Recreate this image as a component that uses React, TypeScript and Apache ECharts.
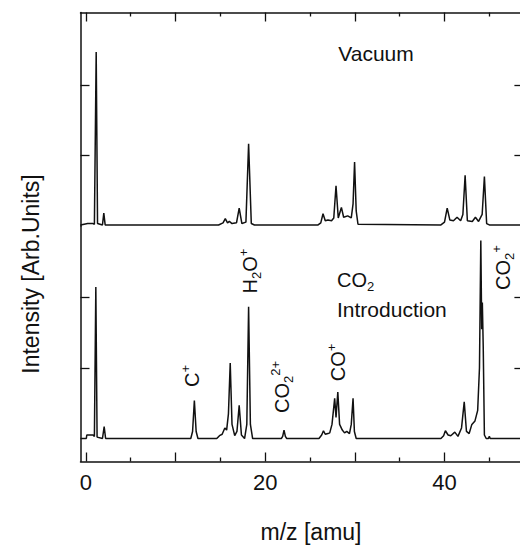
import React, { useEffect, useRef } from "react";
import * as echarts from "echarts";

// ---- data ----
const vacuumMz = [
  -0.6, 0.2, 0.8, 0.95, 1.15, 1.3, 1.85, 2.0, 2.15,
  14.8, 15.3, 15.55, 15.8, 16.0, 16.3, 16.8, 17.1, 17.4, 17.85, 18.15, 18.45, 18.8,
  25.9, 26.2, 26.45, 26.7, 27.0, 27.4, 27.65, 27.9, 28.15, 28.5, 28.75, 29.2, 29.6, 29.8, 29.97, 30.15, 30.35,
  39.6, 40.0, 40.3, 40.6, 41.0, 41.4, 41.8, 42.05, 42.3, 42.55, 43.1, 43.45, 43.8, 44.2, 44.45, 44.7, 45.0, 48.8,
];
const vacuumIntensity = [
  0.0, 0.02, 0.02, 0.01, 2.47, 0.02, 0.0, 0.17, 0.0,
  0.0, 0.03, 0.09, 0.03, 0.05, 0.02, 0.03, 0.24, 0.02, 0.04, 1.16, 0.02, 0.0,
  0.0, 0.03, 0.16, 0.06, 0.07, 0.06, 0.1, 0.56, 0.1, 0.25, 0.11, 0.13, 0.1, 0.3, 0.9, 0.2, 0.01,
  0.0, 0.04, 0.24, 0.07, 0.06, 0.11, 0.06, 0.15, 0.71, 0.06, 0.05, 0.11, 0.05, 0.15, 0.69, 0.02, 0.0, 0.0,
];

const co2Mz = [
  -0.6, 0.05, 0.1, 0.8, 0.95, 1.11, 1.25, 1.85, 2.04, 2.2,
  11.7, 11.9, 12.1, 12.3, 12.5,
  14.6, 14.9, 15.2, 15.5, 15.7, 15.9, 16.1, 16.3, 16.6, 16.85, 17.1, 17.35, 17.7, 17.95, 18.15, 18.35, 18.6,
  21.8, 21.95, 22.1, 22.25, 22.4,
  26.0, 26.3, 26.5, 26.7, 27.0, 27.2, 27.45, 27.75, 27.9, 28.1, 28.3, 28.6, 28.85, 29.1, 29.4, 29.6, 29.8, 29.95, 30.15,
  39.6, 39.9, 40.1, 40.4, 40.7, 41.15, 41.5, 41.9, 42.2, 42.45, 42.75, 43.05, 43.4, 43.7, 43.9, 44.05, 44.15, 44.22, 44.32, 44.45, 44.65,
  44.9, 45.0, 45.1, 48.8,
];
const co2Intensity = [
  0.0, 0.0, 0.05, 0.05, 0.03, 2.15, 0.02, 0.0, 0.17, 0.0,
  0.0, 0.1, 0.54, 0.1, 0.0,
  0.0, 0.04, 0.06, 0.15, 0.12, 0.35, 1.07, 0.2, 0.04, 0.1, 0.47, 0.05, 0.0, 0.2, 1.87, 0.2, 0.0,
  0.0, 0.03, 0.12, 0.03, 0.0,
  0.0, 0.05, 0.11, 0.06, 0.07, 0.08, 0.2, 0.57, 0.3, 0.66, 0.2, 0.12, 0.08, 0.1, 0.07, 0.2, 0.57, 0.1, 0.0,
  0.0, 0.04, 0.11, 0.05, 0.04, 0.09, 0.03, 0.15, 0.52, 0.1, 0.07, 0.2, 0.25, 0.4, 1.0, 2.81, 1.55, 1.93, 1.3, 0.05, 0.0,
  0.0, 0.03, 0.0, 0.0,
];

const majorTicks = [0, 10, 20, 30, 40];
const minorTicks = [5, 15, 25, 35, 45];
const xTickLabels = [0, 20, 40];
const yTicks = [1, 2];

const xTitle = "m/z [amu]";
const yTitle = "Intensity [Arb.Units]";

const FONT = "'Liberation Sans', Arial, Helvetica, sans-serif";
const INK = "#111";

const richScript = {
  n: { fontSize: 20, lineHeight: 26, verticalAlign: "middle", fontFamily: FONT, fill: INK },
  s: { fontSize: 13, lineHeight: 13, verticalAlign: "bottom", fontFamily: FONT, fill: INK },
  p: { fontSize: 13, lineHeight: 13, verticalAlign: "top", fontFamily: FONT, fill: INK },
};

function rotLabel(text: string, x: number, y: number) {
  return {
    type: "text",
    x,
    y,
    rotation: Math.PI / 2,
    silent: true,
    style: {
      text,
      rich: richScript,
      align: "center",
      verticalAlign: "middle",
      fontFamily: FONT,
      fontSize: 20,
      fill: INK,
    },
  };
}

export default function App() {
  const ref = useRef<HTMLDivElement>(null);

  useEffect(() => {
    if (!ref.current) return;
    const chart = echarts.init(ref.current, undefined, { renderer: "svg" });

    const X_MIN = -0.6;
    const X_MAX = 48.8;
    const lineStyle = { color: INK, width: 1.5 };

    const xAxisBase = (gridIndex: number, position: string, ticks: number[], len: number, showLine: boolean, labels?: number[]) => ({
      type: "value",
      gridIndex,
      position,
      min: X_MIN,
      max: X_MAX,
      axisLine: { show: showLine, onZero: false, lineStyle },
      axisTick: { show: true, inside: true, length: len, customValues: ticks, lineStyle: { color: INK, width: 1.3 } },
      axisLabel: labels
        ? { show: true, customValues: labels, fontSize: 22, color: INK, fontFamily: FONT, margin: 10 }
        : { show: false },
      splitLine: { show: false },
    });

    const yAxisBase = (gridIndex: number, position: string, min: number, max: number) => ({
      type: "value",
      gridIndex,
      position,
      min,
      max,
      axisLine: { show: true, onZero: false, lineStyle },
      axisTick: { show: true, inside: true, length: 9, customValues: yTicks, lineStyle: { color: INK, width: 1.3 } },
      axisLabel: { show: false },
      splitLine: { show: false },
    });

    chart.setOption({
      animation: false,
      backgroundColor: "#fff",
      grid: [
        { left: 80.5, right: 6.6, top: 12.5, height: 213.5 },
        { left: 80.5, right: 6.6, top: 226, height: 235.5 },
      ],
      xAxis: [
        xAxisBase(0, "top", majorTicks, 9, true),
        xAxisBase(0, "top", minorTicks, 4, false),
        xAxisBase(1, "bottom", majorTicks, 9, true, xTickLabels),
        xAxisBase(1, "bottom", minorTicks, 4, false),
      ],
      yAxis: [
        yAxisBase(0, "left", -0.015, 3.035),
        yAxisBase(0, "right", -0.015, 3.035),
        yAxisBase(1, "left", -0.326, 3.014),
        yAxisBase(1, "right", -0.326, 3.014),
      ],
      series: [
        {
          name: "Vacuum",
          type: "line",
          xAxisIndex: 0,
          yAxisIndex: 0,
          data: vacuumMz.map((m, i) => [m, vacuumIntensity[i]]),
          showSymbol: false,
          symbol: "none",
          lineStyle: { color: INK, width: 1.5 },
          smooth: false,
        },
        {
          name: "CO2 Introduction",
          type: "line",
          xAxisIndex: 2,
          yAxisIndex: 2,
          data: co2Mz.map((m, i) => [m, co2Intensity[i]]),
          showSymbol: false,
          symbol: "none",
          lineStyle: { color: INK, width: 1.5 },
          smooth: false,
        },
      ],
      graphic: [
        {
          type: "text",
          x: 376,
          y: 53.5,
          silent: true,
          style: { text: "Vacuum", fontSize: 21, fontFamily: FONT, fill: INK, align: "center", verticalAlign: "middle" },
        },
        {
          type: "text",
          x: 337,
          y: 280,
          silent: true,
          style: {
            text: "{n|CO}{s|2}",
            rich: richScript,
            fontSize: 20,
            fontFamily: FONT,
            fill: INK,
            align: "left",
            verticalAlign: "middle",
          },
        },
        {
          type: "text",
          x: 337,
          y: 309.4,
          silent: true,
          style: { text: "Introduction", fontSize: 21, fontFamily: FONT, fill: INK, align: "left", verticalAlign: "middle" },
        },
        rotLabel("{n|C}{p|+}", 192.3, 376),
        rotLabel("{n|H}{s|2}{n|O}{p|+}", 250, 271),
        rotLabel("{n|CO}{s|2}{p|2+}", 282.3, 387),
        rotLabel("{n|CO}{p|+}", 338, 362.5),
        rotLabel("{n|CO}{s|2}{p|+}", 503, 267.5),
        {
          type: "text",
          x: 311,
          y: 532.4,
          silent: true,
          style: { text: xTitle, fontSize: 23, fontFamily: FONT, fill: INK, align: "center", verticalAlign: "middle" },
        },
        {
          type: "text",
          x: 31,
          y: 274,
          rotation: Math.PI / 2,
          silent: true,
          style: { text: yTitle, fontSize: 23, fontFamily: FONT, fill: INK, align: "center", verticalAlign: "middle" },
        },
      ],
    });

    return () => {
      chart.dispose();
    };
  }, []);

  return (
    <div
      style={{
        position: "fixed",
        left: 0,
        top: 0,
        width: 520,
        height: 546,
        overflow: "hidden",
        background: "#fff",
      }}
    >
      <div ref={ref} style={{ width: 530, height: 546 }} />
    </div>
  );
}
